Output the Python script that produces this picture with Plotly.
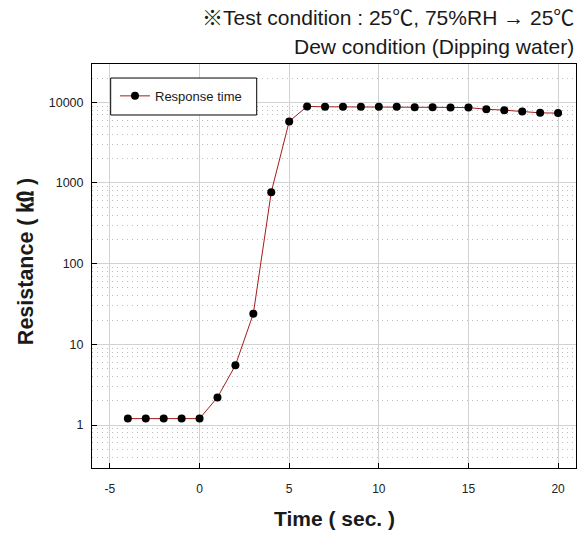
import plotly.graph_objects as go

time_s = [-4, -3, -2, -1, 0, 1, 2, 3, 4, 5, 6, 7, 8, 9, 10, 11, 12, 13, 14, 15, 16, 17, 18, 19, 20]
resistance_kohm = [1.2, 1.2, 1.2, 1.2, 1.2, 2.2, 5.5, 24, 770, 5800, 8900,
                   8800, 8800, 8800, 8800, 8800, 8700, 8700, 8650, 8600,
                   8200, 8000, 7700, 7400, 7350]
series_name = "Response time"
x_ticks = [-5, 0, 5, 10, 15, 20]
x_tick_text = ["-5", "0", "5", "10", "15", "20"]
y_ticks = [1, 10, 100, 1000, 10000]
y_tick_text = ["1", "10", "100", "1000", "10000"]
y_minor = [m * 10 ** e for e in range(-1, 5) for m in range(2, 10)]

FONT = "Liberation Sans, Arial, Noto Sans CJK KR, sans-serif"

fig = go.Figure()
fig.add_trace(go.Scatter(
    x=time_s, y=resistance_kohm, name=series_name, mode="lines+markers",
    line=dict(color="#a51c1c", width=1),
    marker=dict(color="black", size=8),
))

fig.update_layout(
    width=586, height=537,
    margin=dict(l=92, r=10, t=64, b=69),
    paper_bgcolor="white", plot_bgcolor="white",
    font=dict(family=FONT, color="#1a1a1a", size=12),
    showlegend=True,
    legend=dict(x=0.0475, y=0.921, xanchor="left", yanchor="middle",
                bgcolor="rgba(0,0,0,0)", borderwidth=0,
                font=dict(size=13, family=FONT), itemwidth=30),
)
# legend frame
fig.add_shape(type="rect", xref="paper", yref="paper",
              x0=0.0386, x1=0.3403, y0=0.8738, y1=0.9653,
              line=dict(color="black", width=1), fillcolor="white", layer="above")

fig.update_xaxes(
    range=[-6, 21], tickvals=x_ticks, ticktext=x_tick_text, ticks="inside", ticklen=5,
    tickcolor="black", showline=True, linecolor="black", linewidth=1, mirror=True,
    showgrid=True, gridcolor="#d2d2d2", gridwidth=1.3, zeroline=False,
    tickfont=dict(size=12, color="#222"), ticklabelstandoff=10,
)
fig.update_yaxes(
    type="log", range=[-0.533, 4.475], tickvals=y_ticks, ticktext=y_tick_text,
    ticks="inside", ticklen=5, tickcolor="black",
    showline=True, linecolor="black", linewidth=1, mirror=True,
    showgrid=True, gridcolor="#d2d2d2", gridwidth=1.3, zeroline=False,
    tickfont=dict(size=12.5, color="#222"), ticklabelstandoff=5,
    minor=dict(tickvals=y_minor, showgrid=True, gridcolor="#bdbdbd",
               griddash="1px,4px", gridwidth=1, ticks=""),
)

annotations = [
    dict(text="※Test condition : 25℃, 75%RH → 25℃", x=1, y=1.115, xanchor="right",
         yanchor="middle", font=dict(size=21)),
    dict(text="Dew condition (Dipping water)", x=1, y=1.043, xanchor="right",
         yanchor="middle", font=dict(size=21)),
    dict(text="<b>Time ( sec. )</b>", x=0.501, y=-0.126, xanchor="center",
         yanchor="middle", font=dict(size=21)),
    dict(text="<b>Resistance ( ㏀ )</b>", x=-0.136, y=0.51, xanchor="center",
         yanchor="middle", textangle=-90, font=dict(size=21.5)),
]
for a in annotations:
    fig.add_annotation(xref="paper", yref="paper", showarrow=False, **a)

fig.write_html("out.html", config={"displayModeBar": False},
               post_script="document.body.style.margin='0';")
